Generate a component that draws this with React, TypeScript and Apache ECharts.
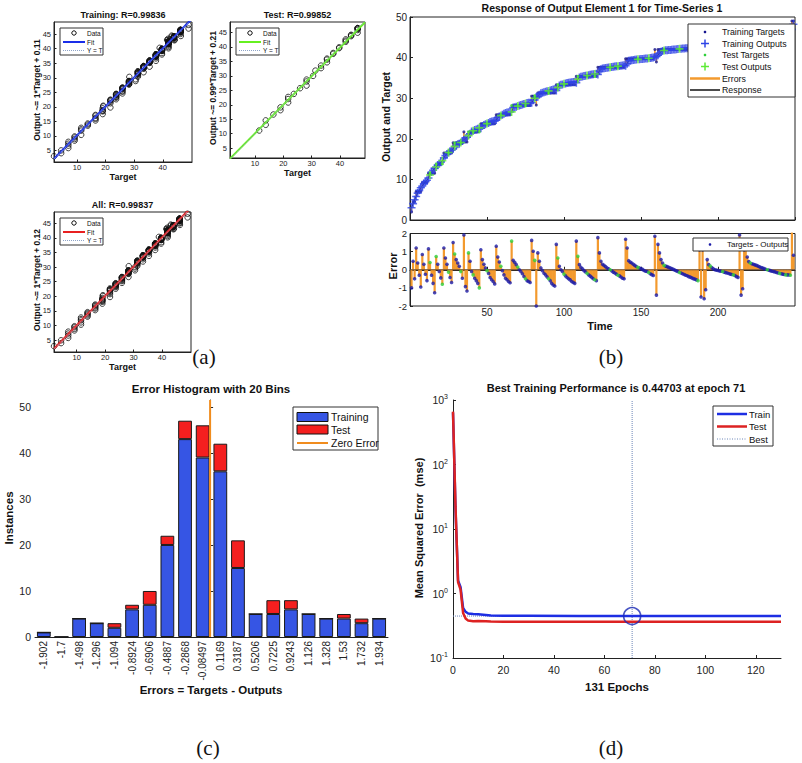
import React, { useEffect, useRef } from "react";
import * as echarts from "echarts";

// ---------------- DATA ----------------
// (a)/(b): target staircase, as plateau levels and the number of time steps on each plateau
const PLATEAU_LEVELS = [2.0, 4.5, 7.0, 9.2, 11.5, 13.8, 16.5, 19.0, 21.7, 19.2, 21.7, 23.7, 25.9, 28.2, 30.5, 28.3, 31.3, 33.3, 35.4, 37.6, 39.7, 42.0, 38.9, 42.0, 44.0, 41.5, 44.2, 41.8, 43.9, 46.3, 43.1, 46.2, 49.0];
const PLATEAU_LENGTHS = [1, 2, 4, 4, 5, 5, 6, 7, 1, 2, 8, 10, 10, 13, 3, 1, 12, 13, 14, 18, 19, 1, 1, 27, 1, 1, 1, 2, 21, 1, 2, 31, 2];
// errors (targets - outputs) per time step
const ERRORS = [
  -1.0,
  0.47, -0.5,
  1.2, 0.37, -0.3, -0.95,
  0.84, 0.3, -0.25, -0.6,
  1.15, 0.4, -0.3, -0.75, -1.27,
  0.73, 0.3, -0.1, -0.45, -0.8,
  1.2, 0.65, 0.3, -0.13, -0.43, -0.7,
  1.5, 0.87, 0.56, 0.37, 0.19, -0.1, -0.47,
  1.92,
  -0.93, -1.17,
  0.93, 0.47, -0.1, -0.28, -0.47, -0.6, -0.75, -1.0,
  1.1, 0.56, 0.3, 0.1, -0.05, -0.2, -0.43, -0.55, -0.65, -0.78,
  1.3, 0.7, 0.43, 0.19, -0.05, -0.28, -0.47, -0.55, -0.65, -0.72,
  1.58, 0.52, 0.41, 0.28, 0.15, 0.0, -0.1, -0.22, -0.37, -0.5, -0.6, -0.65, -0.7,
  1.62, 1.02, 0.52,
  -2.0,
  0.93, 0.47, 0.1, -0.05, -0.19, -0.28, -0.39, -0.5, -0.6, -0.75, -0.84, -0.9,
  1.4, 0.65, 0.19, 0.0, -0.1, -0.24, -0.34, -0.43, -0.5, -0.56, -0.65, -0.7, -0.75,
  1.58, 0.74, 0.28, 0.13, 0.05, -0.05, -0.12, -0.2, -0.28, -0.35, -0.42, -0.5, -0.55, -0.6,
  1.77, 0.93, 0.47, 0.3, 0.24, 0.17, 0.1, 0.05, 0.0, -0.06, -0.13, -0.18, -0.24, -0.3, -0.34, -0.4, -0.47, -0.5,
  1.68, 1.2, 0.5, 0.42, 0.37, 0.3, 0.24, 0.18, 0.13, 0.1, 0.06, 0.02, -0.04, -0.08, -0.1, -0.15, -0.22, -0.27, -0.32,
  1.85,
  -1.4,
  1.4, 0.93, 0.56, 0.37, 0.24, 0.2, 0.17, 0.13, 0.1, 0.06, 0.02, -0.02, -0.06, -0.1, -0.15, -0.18, -0.22, -0.26, -0.3, -0.33, -0.38, -0.41, -0.45, -0.49, -0.52, -0.56, -0.6,
  1.1,
  -1.5,
  1.1,
  -1.6, -1.1,
  0.56, 0.28, 0.2, 0.12, 0.05, 0.0, -0.02, -0.04, -0.06, -0.08, -0.1, -0.13, -0.16, -0.18, -0.21, -0.24, -0.26, -0.28, -0.32, -0.38, -0.42,
  1.92,
  -1.4, -1.05,
  1.1, 1.3, 0.7, 0.45, 0.37, 0.33, 0.3, 0.27, 0.24, 0.2, 0.16, 0.12, 0.1, 0.06, 0.03, 0.0, -0.02, -0.05, -0.08, -0.1, -0.12, -0.15, -0.18, -0.2, -0.22, -0.24, -0.26, -0.28, -0.28, -0.29, -0.3,
  2.05, 0.8,
];
// time steps that belong to the test set
const TEST_STEPS = [13, 17, 21, 25, 29, 33, 38, 41, 45, 50, 59, 66, 70, 75, 81, 90, 96, 100, 109, 115, 120, 130, 135, 148, 155, 165, 175, 187, 195, 203, 210, 218, 221, 232, 240, 244, 247];

// (a) regression titles, axis labels and fits
const REG_TITLES = ["Training: R=0.99836", "Test: R=0.99852", "All: R=0.99837"];
const REG_YLABELS = ["Output ~= 1*Target + 0.11", "Output ~= 0.99*Target + 0.21", "Output ~= 1*Target + 0.12"];
const FIT_SLOPES = [1, 0.99, 1];
const FIT_INTERCEPTS = [0.11, 0.21, 0.12];
const REG_XTICKS = [10, 20, 30, 40];
const REG_YTICKS = [5, 10, 15, 20, 25, 30, 35, 40, 45];

// (c) error histogram
const BIN_CENTERS = ["-1.902", "-1.7", "-1.498", "-1.296", "-1.094", "-0.8924", "-0.6906", "-0.4887", "-0.2868", "-0.08497", "0.1169", "0.3187", "0.5206", "0.7225", "0.9243", "1.126", "1.328", "1.53", "1.732", "1.934"];
const HIST_TRAINING = [1, 0, 4, 3, 2, 6, 7, 20, 43, 39, 36, 15, 5, 5, 6, 5, 4, 4, 3, 4];
const HIST_TEST = [0, 0, 0, 0, 1, 1, 3, 2, 4, 7, 6, 6, 0, 3, 2, 0, 0, 1, 1, 0];
const HIST_EDGES = [-2.003, 2.035];
const ZERO_ERROR = 0;

// (d) performance
const PERF_EPOCHS = [0, 1, 2, 3, 4, 5, 6, 8, 10, 13, 15, 20, 30, 50, 71, 100, 130];
const PERF_TRAIN = [640, 20, 1.6, 1.25, 0.6, 0.52, 0.49, 0.48, 0.475, 0.465, 0.455, 0.452, 0.45, 0.448, 0.447, 0.447, 0.447];
const PERF_TEST = [660, 22, 1.5, 1.15, 0.5, 0.41, 0.38, 0.37, 0.375, 0.372, 0.368, 0.366, 0.366, 0.366, 0.366, 0.366, 0.366];
const BEST_EPOCH = 71;
const BEST_PERF = 0.44703;
const MAX_EPOCH = 130;

// ---------------- DERIVED TABLES ----------------
const TARGETS: number[] = [];
PLATEAU_LEVELS.forEach((lv, i) => {
  for (let k = 0; k < PLATEAU_LENGTHS[i]; k++) TARGETS.push(lv);
});
const N = Math.min(TARGETS.length, ERRORS.length);
const STEPS = Array.from({ length: N }, (_, i) => i + 1);
const OUTPUTS = STEPS.map((_, i) => +(TARGETS[i] - ERRORS[i]).toFixed(3));
const isTest = (t: number) => TEST_STEPS.indexOf(t) >= 0;
const trainIdx = STEPS.filter((t) => !isTest(t)).map((t) => t - 1);
const testIdx = STEPS.filter((t) => isTest(t)).map((t) => t - 1);

// ---------------- STYLE ----------------
const FONT = '"Liberation Sans", Arial, Helvetica, sans-serif';
const SERIF = '"Liberation Serif", "Times New Roman", serif';
const AX = "#222";
const BLUE_PLUS = "#2f45e6";
const BLUE_DOT = "#15158f";
const GREEN_DOT = "#2fcf3a";
const GREEN_PLUS = "#5eea36";
const ORANGE = "#f39a2e";
const PLUS = "path://M0,4H10V6H0Z M4,0H6V10H4Z";

const REG_LAYOUT = [
  { left: 54, top: 22, width: 138, height: 140, xr: [2, 50.2], yr: [1, 49.2], fit: "#1a2ee8" },
  { left: 230, top: 22, width: 135, height: 136, xr: [1.2, 48.8], yr: [1.6, 48.6], fit: "#66f020" },
  { left: 54, top: 212, width: 137, height: 140, xr: [2, 50.2], yr: [1, 48.8], fit: "#e82020" },
];

function txt(text: string, x: number, y: number, font: string, rot = 0, align = "center") {
  return {
    type: "text",
    x,
    y,
    z: 100,
    rotation: rot,
    style: { text, font, fill: "#111", align, verticalAlign: "middle", textAlign: align, textVerticalAlign: "middle" },
  };
}
function box(x: number, y: number, w: number, h: number) {
  return { type: "rect", z: 99, shape: { x, y, width: w, height: h }, style: { fill: "#fff", stroke: "#333", lineWidth: 1 } };
}
function seg(x1: number, y1: number, x2: number, y2: number, stroke: string, lineWidth: number, dash?: number[]) {
  return { type: "line", z: 100, shape: { x1, y1, x2, y2 }, style: { stroke, lineWidth, lineDash: dash } };
}
function dot(cx: number, cy: number, r: number, fill: string, stroke?: string) {
  return { type: "circle", z: 100, shape: { cx, cy, r }, style: { fill, stroke, lineWidth: 1 } };
}

function buildOption() {
  const grid: any[] = [];
  const xAxis: any[] = [];
  const yAxis: any[] = [];
  const series: any[] = [];
  const graphic: any[] = [];

  const baseAxis = (extra: any) => ({
    axisLine: { show: true, lineStyle: { color: AX, width: 1 } },
    axisTick: { show: true, inside: true, length: 3, lineStyle: { color: AX } },
    splitLine: { show: false },
    axisLabel: { color: "#222", fontFamily: FONT },
    ...extra,
  });

  // ---------- (a) regression panels ----------
  const regSets = [trainIdx, testIdx, STEPS.map((t) => t - 1)];
  REG_LAYOUT.forEach((L, k) => {
    grid.push({ left: L.left, top: L.top, width: L.width, height: L.height, show: true, borderColor: AX, borderWidth: 1, backgroundColor: "#fff" });
    xAxis.push(
      baseAxis({
        type: "value",
        gridIndex: k,
        min: L.xr[0],
        max: L.xr[1],
        axisTick: { show: true, inside: true, length: 2.5, customValues: REG_XTICKS, lineStyle: { color: AX } },
        axisLabel: { customValues: REG_XTICKS, fontSize: 7.5, margin: 1, color: "#222", fontFamily: FONT },
      })
    );
    yAxis.push(
      baseAxis({
        type: "value",
        gridIndex: k,
        min: L.yr[0],
        max: L.yr[1],
        axisTick: { show: true, inside: true, length: 2.5, customValues: REG_YTICKS, lineStyle: { color: AX } },
        axisLabel: { customValues: REG_YTICKS, fontSize: 7.5, margin: 3, color: "#222", fontFamily: FONT },
      })
    );
    const pts = regSets[k].map((i) => [TARGETS[i], OUTPUTS[i]]);
    series.push({
      type: "scatter",
      name: "Data" + k,
      xAxisIndex: k,
      yAxisIndex: k,
      symbol: "circle",
      symbolSize: 5.5,
      itemStyle: { color: "rgba(0,0,0,0)", borderColor: "#111", borderWidth: 1 },
      data: pts,
      z: 2,
    });
    const a = FIT_SLOPES[k];
    const b = FIT_INTERCEPTS[k];
    series.push({
      type: "line",
      name: "Fit" + k,
      xAxisIndex: k,
      yAxisIndex: k,
      symbol: "none",
      lineStyle: { color: L.fit, width: 2 },
      data: [
        [L.xr[0], a * L.xr[0] + b],
        [L.xr[1], a * L.xr[1] + b],
      ],
      z: 3,
    });
    series.push({
      type: "line",
      name: "YT" + k,
      xAxisIndex: k,
      yAxisIndex: k,
      symbol: "none",
      lineStyle: { color: "#8ea4c8", width: 1, type: "dotted" },
      data: [
        [L.xr[0], L.xr[0]],
        [L.xr[1], L.xr[1]],
      ],
      z: 4,
    });
    // texts
    const cx = L.left + L.width / 2;
    graphic.push(txt(REG_TITLES[k], cx, L.top - 7, `bold 9px ${FONT}`));
    graphic.push(txt(REG_YLABELS[k], L.left - 17, L.top + L.height / 2 - 2, `bold 8.5px ${FONT}`, Math.PI / 2));
    graphic.push(txt("Target", cx, L.top + L.height + 14.5, `bold 9px ${FONT}`));
    // legend
    const lx = L.left + 6;
    const ly = L.top + 6;
    graphic.push(box(lx, ly, 43, 27));
    graphic.push(dot(lx + 14, ly + 5, 2.2, "none", "#111"));
    graphic.push(txt("Data", lx + 27, ly + 5, `6.5px ${FONT}`, 0, "left"));
    graphic.push(seg(lx + 3, ly + 14, lx + 25, ly + 14, L.fit, 2));
    graphic.push(txt("Fit", lx + 27, ly + 14, `6.5px ${FONT}`, 0, "left"));
    graphic.push(seg(lx + 3, ly + 22.5, lx + 25, ly + 22.5, "#8ea4c8", 1, [1, 1]));
    graphic.push(txt("Y = T", lx + 27, ly + 22.5, `6.5px ${FONT}`, 0, "left"));
  });

  // ---------- (b) response ----------
  grid.push({ left: 410, top: 17, width: 385, height: 203, show: true, borderColor: AX, borderWidth: 1, backgroundColor: "#fff" }); // 3
  grid.push({ left: 410, top: 233.5, width: 385, height: 72.5, show: true, borderColor: AX, borderWidth: 1, backgroundColor: "#fff" }); // 4
  xAxis.push(baseAxis({ type: "value", gridIndex: 3, min: 0, max: 250, interval: 50, axisLabel: { show: false } }));
  yAxis.push(baseAxis({ type: "value", gridIndex: 3, min: 0, max: 50, interval: 10, axisLabel: { fontSize: 10, margin: 3, color: "#222", fontFamily: FONT } }));
  xAxis.push(
    baseAxis({
      type: "value",
      gridIndex: 4,
      min: 0,
      max: 250,
      interval: 50,
      axisLabel: { fontSize: 10, margin: 1.5, showMinLabel: false, showMaxLabel: false, color: "#222", fontFamily: FONT },
    })
  );
  yAxis.push(baseAxis({ type: "value", gridIndex: 4, min: -2, max: 2, interval: 1, axisLabel: { fontSize: 9.5, margin: 3, color: "#222", fontFamily: FONT } }));

  const stemRender = (width: number) => (_p: any, api: any) => {
    const p1 = api.coord([api.value(0), api.value(1)]);
    const p2 = api.coord([api.value(0), api.value(2)]);
    return { type: "line", shape: { x1: p1[0], y1: p1[1], x2: p2[0], y2: p2[1] }, style: { stroke: ORANGE, lineWidth: width } };
  };

  series.push({
    type: "custom",
    name: "Errors",
    xAxisIndex: 3,
    yAxisIndex: 3,
    data: STEPS.map((t, i) => [t, TARGETS[i], OUTPUTS[i]]),
    encode: { x: 0, y: [1, 2] },
    renderItem: stemRender(1.6),
    z: 2,
  });
  series.push({
    type: "line",
    name: "Response",
    xAxisIndex: 3,
    yAxisIndex: 3,
    symbol: "none",
    lineStyle: { color: "#111", width: 1 },
    data: STEPS.map((t, i) => [t, OUTPUTS[i]]),
    z: 3,
  });
  series.push({
    type: "scatter",
    name: "Training Targets",
    xAxisIndex: 3,
    yAxisIndex: 3,
    symbol: "circle",
    symbolSize: 3,
    itemStyle: { color: BLUE_DOT },
    data: trainIdx.map((i) => [STEPS[i], TARGETS[i]]),
    z: 4,
  });
  series.push({
    type: "scatter",
    name: "Training Outputs",
    xAxisIndex: 3,
    yAxisIndex: 3,
    symbol: PLUS,
    symbolSize: 8,
    itemStyle: { color: BLUE_PLUS },
    data: trainIdx.map((i) => [STEPS[i], OUTPUTS[i]]),
    z: 5,
  });
  series.push({
    type: "scatter",
    name: "Test Targets",
    xAxisIndex: 3,
    yAxisIndex: 3,
    symbol: "circle",
    symbolSize: 3,
    itemStyle: { color: GREEN_DOT },
    data: testIdx.map((i) => [STEPS[i], TARGETS[i]]),
    z: 6,
  });
  series.push({
    type: "scatter",
    name: "Test Outputs",
    xAxisIndex: 3,
    yAxisIndex: 3,
    symbol: PLUS,
    symbolSize: 8,
    itemStyle: { color: GREEN_PLUS },
    data: testIdx.map((i) => [STEPS[i], OUTPUTS[i]]),
    z: 7,
  });
  // error subplot: stems from zero to each error
  series.push({
    type: "custom",
    name: "ErrorStems",
    xAxisIndex: 4,
    yAxisIndex: 4,
    data: STEPS.map((t, i) => [t, 0, ERRORS[i]]),
    encode: { x: 0, y: [1, 2] },
    renderItem: stemRender(2.2),
    z: 2,
  });
  series.push({
    type: "line",
    name: "ZeroLine",
    xAxisIndex: 4,
    yAxisIndex: 4,
    symbol: "none",
    lineStyle: { color: "#6b4a2b", width: 1 },
    data: [
      [0, 0],
      [250, 0],
    ],
    z: 3,
  });
  series.push({
    type: "scatter",
    name: "Targets - Outputs",
    xAxisIndex: 4,
    yAxisIndex: 4,
    symbol: "circle",
    symbolSize: 3.6,
    itemStyle: { color: "#1c1ca8" },
    data: trainIdx.map((i) => [STEPS[i], ERRORS[i]]),
    z: 4,
  });
  series.push({
    type: "scatter",
    name: "Test Errors",
    xAxisIndex: 4,
    yAxisIndex: 4,
    symbol: "circle",
    symbolSize: 3.6,
    itemStyle: { color: GREEN_DOT },
    data: testIdx.map((i) => [STEPS[i], ERRORS[i]]),
    z: 5,
  });
  graphic.push(txt("Response of Output Element 1 for Time-Series 1", 602, 7.5, `bold 10.5px ${FONT}`));
  graphic.push(txt("Output and Target", 386, 117, `bold 10.5px ${FONT}`, Math.PI / 2));
  graphic.push(txt("Error", 393, 266, `bold 11px ${FONT}`, Math.PI / 2));
  graphic.push(txt("Time", 600, 326, `bold 11px ${FONT}`));
  // response legend
  {
    const x0 = 688;
    const y0 = 24;
    graphic.push(box(x0, y0, 107, 73));
    const rows = [8, 19.5, 31, 42.5, 54.5, 66];
    const labels = ["Training Targets", "Training Outputs", "Test Targets", "Test Outputs", "Errors", "Response"];
    graphic.push(dot(705, y0 + rows[0], 1.3, BLUE_DOT));
    graphic.push(seg(701, y0 + rows[1], 709, y0 + rows[1], BLUE_PLUS, 1.5));
    graphic.push(seg(705, y0 + rows[1] - 4, 705, y0 + rows[1] + 4, BLUE_PLUS, 1.5));
    graphic.push(dot(705, y0 + rows[2], 1.3, GREEN_DOT));
    graphic.push(seg(701, y0 + rows[3], 709, y0 + rows[3], GREEN_PLUS, 1.5));
    graphic.push(seg(705, y0 + rows[3] - 4, 705, y0 + rows[3] + 4, GREEN_PLUS, 1.5));
    graphic.push(seg(690, y0 + rows[4], 720, y0 + rows[4], ORANGE, 2.5));
    graphic.push(seg(690, y0 + rows[5], 720, y0 + rows[5], "#111", 1.5));
    labels.forEach((l, i) => graphic.push(txt(l, 722, y0 + rows[i], `8.8px ${FONT}`, 0, "left")));
  }
  graphic.push(box(693, 238, 95, 13));
  graphic.push(dot(710, 244.5, 1.3, "#1c1ca8"));
  graphic.push(txt("Targets - Outputs", 727, 244.5, `8px ${FONT}`, 0, "left"));

  // ---------- (c) histogram ----------
  grid.push({ left: 35, top: 400, width: 353, height: 237 }); // 5
  xAxis.push(
    baseAxis({
      type: "category",
      gridIndex: 5,
      data: BIN_CENTERS,
      axisTick: { show: false },
      axisLabel: { interval: 0, rotate: 90, fontSize: 10, margin: 4, color: "#222", fontFamily: FONT },
    })
  );
  xAxis.push({ type: "value", gridIndex: 5, min: HIST_EDGES[0], max: HIST_EDGES[1], show: false });
  yAxis.push(baseAxis({ type: "value", gridIndex: 5, min: 0, max: 51.5, interval: 10, axisLabel: { fontSize: 10.5, margin: 4, showMaxLabel: false, color: "#222", fontFamily: FONT } }));
  series.push({
    type: "bar",
    name: "Training",
    xAxisIndex: 5,
    yAxisIndex: 5,
    stack: "hist",
    barCategoryGap: "22%",
    itemStyle: { color: "#3655e4", borderColor: "#1a1a1a", borderWidth: 1 },
    data: HIST_TRAINING,
  });
  series.push({
    type: "bar",
    name: "Test",
    xAxisIndex: 5,
    yAxisIndex: 5,
    stack: "hist",
    barCategoryGap: "22%",
    itemStyle: { color: "#f41f1f", borderColor: "#1a1a1a", borderWidth: 1 },
    data: HIST_TEST,
  });
  series.push({
    type: "line",
    name: "Zero Error",
    xAxisIndex: 6,
    yAxisIndex: 5,
    symbol: "none",
    lineStyle: { color: "#f08c1e", width: 2 },
    data: [
      [ZERO_ERROR, 0],
      [ZERO_ERROR, 51.5],
    ],
    z: 5,
  });
  graphic.push(txt("Error Histogram with 20 Bins", 211, 389, `bold 11.5px ${FONT}`));
  graphic.push(txt("Instances", 9, 518, `bold 11.5px ${FONT}`, Math.PI / 2));
  graphic.push(txt("Errors = Targets - Outputs", 211, 690, `bold 11.5px ${FONT}`));
  {
    graphic.push(box(293, 407, 85, 43));
    graphic.push({ type: "rect", z: 100, shape: { x: 297, y: 412.5, width: 31, height: 9 }, style: { fill: "#3655e4", stroke: "#111", lineWidth: 1 } });
    graphic.push({ type: "rect", z: 100, shape: { x: 297, y: 425, width: 31, height: 9 }, style: { fill: "#f41f1f", stroke: "#111", lineWidth: 1 } });
    graphic.push(seg(297, 443, 328, 443, "#f08c1e", 2));
    graphic.push(txt("Training", 331, 417, `10.5px ${FONT}`, 0, "left"));
    graphic.push(txt("Test", 331, 429.5, `10.5px ${FONT}`, 0, "left"));
    graphic.push(txt("Zero Error", 331, 443, `10.5px ${FONT}`, 0, "left"));
  }

  // ---------- (d) performance ----------
  grid.push({ left: 453, top: 400, width: 328, height: 258 }); // 6
  xAxis.push(
    baseAxis({
      type: "value",
      gridIndex: 6,
      min: 0,
      max: MAX_EPOCH,
      interval: 20,
      axisLabel: { fontSize: 10.5, margin: 6, showMaxLabel: false, color: "#222", fontFamily: FONT },
    })
  );
  yAxis.push(
    baseAxis({
      type: "log",
      logBase: 10,
      gridIndex: 6,
      min: 0.1,
      max: 1000,
      axisLabel: {
        margin: 5,
        color: "#222",
        fontFamily: FONT,
        fontSize: 10.5,
        formatter: (v: number) => `10{e|${Math.round(Math.log10(v))}}`,
        rich: { e: { fontSize: 7, verticalAlign: "top", lineHeight: 14, fontFamily: FONT, color: "#222" } },
        lineHeight: 14,
      },
    })
  );
  series.push({
    type: "line",
    name: "BestV",
    xAxisIndex: 7,
    yAxisIndex: 6,
    symbol: "none",
    lineStyle: { color: "#6d86b8", width: 1, type: "dotted" },
    data: [
      [BEST_EPOCH, 0.1],
      [BEST_EPOCH, 1000],
    ],
    z: 2,
  });
  series.push({
    type: "line",
    name: "BestH",
    xAxisIndex: 7,
    yAxisIndex: 6,
    symbol: "none",
    lineStyle: { color: "#6d86b8", width: 1, type: "dotted" },
    data: [
      [0, BEST_PERF],
      [MAX_EPOCH, BEST_PERF],
    ],
    z: 2,
  });
  series.push({
    type: "line",
    name: "Train",
    xAxisIndex: 7,
    yAxisIndex: 6,
    symbol: "none",
    lineStyle: { color: "#1d2ee3", width: 2.5 },
    data: PERF_EPOCHS.map((e, i) => [e, PERF_TRAIN[i]]),
    z: 3,
  });
  series.push({
    type: "line",
    name: "Test",
    xAxisIndex: 7,
    yAxisIndex: 6,
    symbol: "none",
    lineStyle: { color: "#dd2222", width: 2.5 },
    data: PERF_EPOCHS.map((e, i) => [e, PERF_TEST[i]]),
    z: 4,
  });
  series.push({
    type: "scatter",
    name: "Best",
    xAxisIndex: 7,
    yAxisIndex: 6,
    symbol: "circle",
    symbolSize: 17,
    itemStyle: { color: "rgba(0,0,0,0)", borderColor: "#1a2ab5", borderWidth: 1.6 },
    data: [[BEST_EPOCH, BEST_PERF]],
    z: 6,
  });
  graphic.push(txt("Best Training Performance is 0.44703 at epoch 71", 616, 388, `bold 11px ${FONT}`));
  graphic.push(txt("Mean Squared Error  (mse)", 419, 528, `bold 11px ${FONT}`, Math.PI / 2));
  graphic.push(txt("131 Epochs", 617, 687, `bold 11.5px ${FONT}`));
  {
    graphic.push(box(713, 406, 60, 40));
    graphic.push(seg(717, 414, 747, 414, "#1d2ee3", 2.5));
    graphic.push(seg(717, 426.5, 747, 426.5, "#dd2222", 2.5));
    graphic.push(seg(717, 439, 747, 439, "#6d86b8", 1, [1, 1.5]));
    graphic.push(txt("Train", 749, 414, `9.5px ${FONT}`, 0, "left"));
    graphic.push(txt("Test", 749, 426.5, `9.5px ${FONT}`, 0, "left"));
    graphic.push(txt("Best", 749, 439, `9.5px ${FONT}`, 0, "left"));
  }

  // panel letters
  graphic.push(txt("(a)", 204, 357, `21px ${SERIF}`));
  graphic.push(txt("(b)", 611, 357, `21px ${SERIF}`));
  graphic.push(txt("(c)", 208, 748, `21px ${SERIF}`));
  graphic.push(txt("(d)", 611, 748, `21px ${SERIF}`));

  return {
    animation: false,
    backgroundColor: "#fff",
    textStyle: { fontFamily: FONT },
    grid,
    xAxis,
    yAxis,
    series,
    graphic: { elements: graphic },
  };
}

export default function App() {
  const ref = useRef<HTMLDivElement>(null);
  useEffect(() => {
    if (!ref.current) return;
    const chart = echarts.init(ref.current, undefined, { renderer: "svg" });
    chart.setOption(buildOption() as any);
    return () => chart.dispose();
  }, []);
  return <div ref={ref} style={{ position: "fixed", left: 0, top: 0, width: 802, height: 763, background: "#fff" }} />;
}
